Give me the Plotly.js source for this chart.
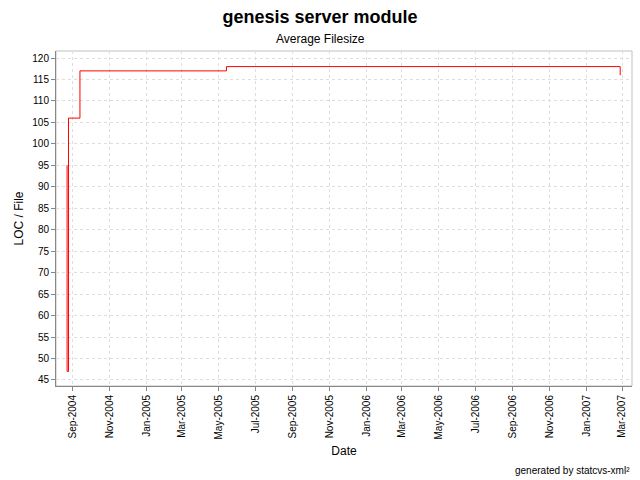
<!DOCTYPE html>
<html>
<head>
<meta charset="utf-8">
<script src="https://cdn.plot.ly/plotly-3.0.1.min.js"></script>
<style>html,body{margin:0;padding:0;background:#fff;}#chart{width:640px;height:480px;}</style>
</head>
<body>
<div id="chart"></div>
<script>
// Average filesize (LOC per file) over time, step series
const dates = ["2004-08-22 08:00", "2004-08-22 16:00", "2004-08-25", "2004-09-13", "2005-05-14", "2007-02-26"];
const locPerFile = [95, 47, 106, 117, 118, 116];

const chartTitle = "genesis server module";
const subTitle = "Average Filesize";
const xTitle = "Date";
const yTitle = "LOC / File";
const footer = "generated by statcvs-xml²";

const fontFamily = "Liberation Sans, Arial, sans-serif";

const trace = {
  x: dates,
  y: locPerFile,
  type: "scatter",
  mode: "lines",
  line: {color: "#ff0000", width: 1, shape: "hv"},
  hoverinfo: "x+y"
};

const layout = {
  width: 640,
  height: 480,
  margin: {l: 56, r: 8, t: 51, b: 94},
  paper_bgcolor: "#ffffff",
  plot_bgcolor: "#ffffff",
  showlegend: false,
  font: {family: fontFamily, color: "#000000", size: 10},
  title: {
    text: "<b>" + chartTitle + "</b>",
    font: {family: fontFamily, size: 18, color: "#000000"},
    x: 0.5, xref: "container", xanchor: "center",
    y: 1 - 17/480, yref: "container", yanchor: "middle"
  },
  xaxis: {
    type: "date",
    range: ["2004-08-04 07:00", "2007-03-17 14:00"],
    tick0: "2004-09-01",
    dtick: "M2",
    tickformat: "%b-%Y",
    tickangle: -90,
    ticks: "outside",
    ticklen: 4,
    tickcolor: "#888888",
    tickfont: {family: fontFamily, size: 10, color: "#000000"},
    showline: true,
    linecolor: "#888888",
    linewidth: 1,
    showgrid: true,
    gridcolor: "#dedede",
    griddash: "3px,3px",
    gridwidth: 1,
    zeroline: false,
    title: {text: xTitle, font: {family: fontFamily, size: 12, color: "#000000"}, standoff: 8}
  },
  yaxis: {
    range: [43.6, 121.63],
    tick0: 45,
    dtick: 5,
    ticks: "outside",
    ticklen: 4,
    tickcolor: "#888888",
    tickfont: {family: fontFamily, size: 10, color: "#000000"},
    showline: true,
    linecolor: "#888888",
    linewidth: 1,
    showgrid: true,
    gridcolor: "#dedede",
    griddash: "3px,3px",
    gridwidth: 1,
    zeroline: false,
    title: {text: yTitle, font: {family: fontFamily, size: 12, color: "#000000"}, standoff: 6}
  },
  shapes: [{
    type: "rect", xref: "paper", yref: "paper", x0: 0, x1: 1, y0: 0, y1: 1,
    line: {color: "#c0c0c0", width: 1}, layer: "below"
  }],
  annotations: [
    {
      text: subTitle, xref: "paper", yref: "paper",
      x: (320 - 56) / 576, y: (386 - 39) / 335,
      xanchor: "center", yanchor: "middle", showarrow: false,
      font: {family: fontFamily, size: 12, color: "#000000"}
    },
    {
      text: footer, xref: "paper", yref: "paper",
      x: 1, y: (386 - 470) / 335,
      xanchor: "right", yanchor: "middle", showarrow: false,
      font: {family: fontFamily, size: 10, color: "#000000"}
    }
  ]
};

Plotly.newPlot("chart", [trace], layout, {displayModeBar: false, staticPlot: true});
</script>
</body>
</html>
